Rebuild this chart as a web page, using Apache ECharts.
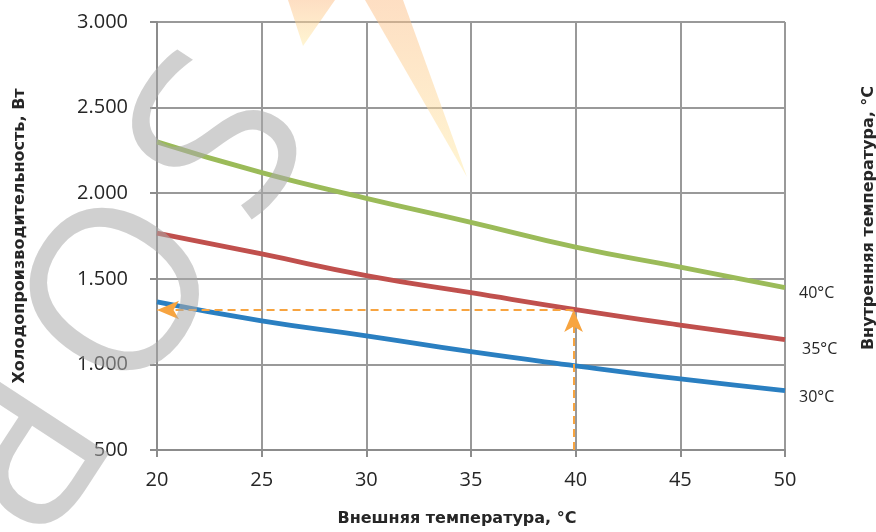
<!DOCTYPE html>
<html>
<head>
<meta charset="utf-8">
<script src="https://cdn.jsdelivr.net/npm/echarts@6/dist/echarts.min.js"></script>
<style>
html,body{margin:0;padding:0;background:#fff;}
#chart{width:876px;height:532px;}
</style>
</head>
<body>
<div id="chart"></div>
<script>
const xValues = [20, 25, 30, 35, 40, 45, 50];
const green40 = [2300, 2120, 1970, 1830, 1685, 1568, 1448];
const red35 = [1767, 1645, 1519, 1419, 1320, 1229, 1144];
const blue30 = [1365, 1254, 1167, 1074, 992, 915, 847];
const seriesNames = ['30°C', '35°C', '40°C'];
const xTitle = 'Внешняя температура, °C';
const yTitle = 'Холодопроизводительность, Вт';
const rightTitle = 'Внутренняя температура, °C';
const guideX = 39.9;
const guideY = 1318;
const guideStartY = 500;
const guideEndX = 20;

function pairs(ys) { return xValues.map((x, i) => [x, ys[i]]); }
function fmtY(v) {
  if (v >= 1000) { return Math.floor(v / 1000) + '.' + String(v % 1000).padStart(3, '0'); }
  return String(v);
}

const chart = echarts.init(document.getElementById('chart'), null, {renderer: 'canvas'});
const axisColor = '#8c8c8c';
const textColor = '#262626';

function lineSeries(name, data, color, dist, dy) {
  return {
    name: name, type: 'line', data: pairs(data), smooth: true, showSymbol: false,
    lineStyle: {color: color, width: 4.8}, itemStyle: {color: color},
    emphasis: {disabled: true}, silent: true,
    endLabel: {show: true, formatter: name, fontFamily: 'Open Sans', fontSize: 16, color: textColor, distance: dist, offset: [0, dy]}
  };
}

const s30 = lineSeries(seriesNames[0], blue30, '#2A7FC1', 14, 7);
const s35 = lineSeries(seriesNames[1], red35, '#C0504D', 17, 10);
const s40 = lineSeries(seriesNames[2], green40, '#9BBB59', 14, 6);
s40.markLine = {
  silent: true, symbol: ['none', 'arrow'], symbolSize: [14, 22], animation: false,
  lineStyle: {color: '#F7A440', type: [8, 5], width: 2}, label: {show: false},
  data: [
    [{coord: [guideX, guideStartY]}, {coord: [guideX, guideY]}],
    [{coord: [guideX, guideY]}, {coord: [guideEndX, guideY]}]
  ]
};

const wmFill = 'rgba(170,170,170,0.55)';
const flameFill = new echarts.graphic.LinearGradient(0, 0, 0, 1, [
  {offset: 0, color: 'rgba(252,190,135,0.5)'},
  {offset: 1, color: 'rgba(255,235,165,0.5)'}
]);
const titleStyle = {fontFamily: 'DejaVu Sans', fontWeight: 'bold', fontSize: 16, color: textColor};

const option = {
  animation: false,
  backgroundColor: '#fff',
  grid: {left: 157, right: 91, top: 22, bottom: 80},
  xAxis: {
    type: 'value', min: 20, max: 50, interval: 5,
    name: xTitle, nameLocation: 'middle', nameGap: 61,
    nameTextStyle: Object.assign({padding: [0, 28, 0, 0]}, titleStyle),
    axisLine: {show: true, lineStyle: {color: axisColor, width: 2}},
    axisTick: {show: true, length: 7, lineStyle: {color: axisColor, width: 2}},
    axisLabel: {margin: 20, fontFamily: 'Open Sans', fontSize: 20, color: textColor},
    splitLine: {show: true, lineStyle: {color: '#999', width: 2}}
  },
  yAxis: {
    type: 'value', min: 500, max: 3000, interval: 500,
    name: yTitle, nameLocation: 'middle', nameGap: 129,
    nameTextStyle: titleStyle,
    axisLine: {show: true, lineStyle: {color: axisColor, width: 2}},
    axisTick: {show: true, length: 7, lineStyle: {color: axisColor, width: 2}},
    axisLabel: {margin: 29, fontFamily: 'Open Sans', fontSize: 20, color: textColor, formatter: fmtY},
    splitLine: {show: true, lineStyle: {color: '#999', width: 2}}
  },
  series: [s30, s35, s40],
  graphic: [
    {type: 'text', x: 869, y: 218, rotation: Math.PI / 2, z: 100,
     style: {text: rightTitle, font: 'bold 16px "DejaVu Sans"', fill: textColor, textAlign: 'center', textVerticalAlign: 'middle'}},
    {type: 'text', x: 200, y: 127, rotation: -2.15, z: 100, silent: true,
     style: {text: 'S', font: '235px "Open Sans"', fill: wmFill, textAlign: 'center', textVerticalAlign: 'middle'}},
    {type: 'text', x: 100, y: 280, rotation: -2.15, z: 100, silent: true,
     style: {text: 'O', font: '230px "Open Sans"', fill: wmFill, textAlign: 'center', textVerticalAlign: 'middle'}},
    {type: 'text', x: 0, y: 440, rotation: -2.15, z: 100, silent: true,
     style: {text: 'R', font: '230px "Open Sans"', fill: wmFill, textAlign: 'center', textVerticalAlign: 'middle'}},
    {type: 'polygon', z: 100, silent: true, shape: {points: [[288, 0], [335, 0], [303, 46]]}, style: {fill: flameFill}},
    {type: 'polygon', z: 100, silent: true, shape: {points: [[365, 0], [403, 0], [467, 177]]}, style: {fill: flameFill}}
  ]
};
chart.setOption(option);
</script>
</body>
</html>
